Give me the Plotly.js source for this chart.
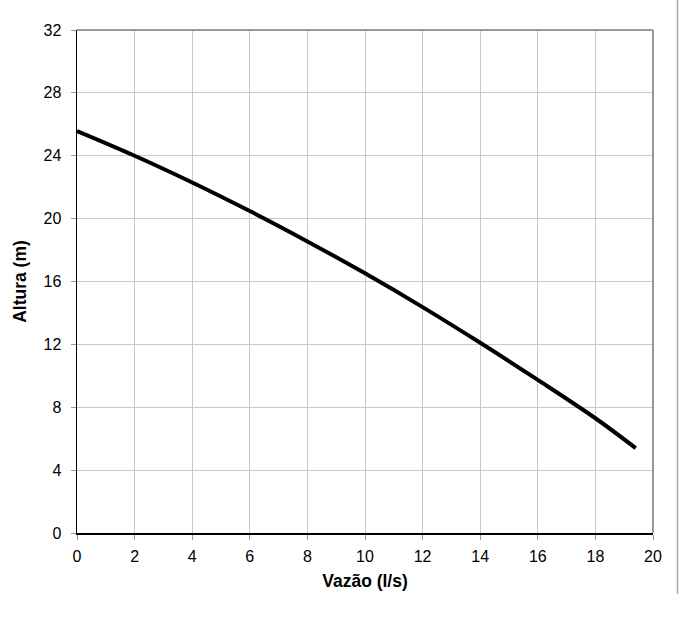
<!DOCTYPE html>
<html>
<head>
<meta charset="utf-8">
<script src="https://cdn.plot.ly/plotly-3.0.1.min.js"></script>
<style>html,body{margin:0;padding:0;background:#fff;}#chart{width:696px;height:619px;}</style>
</head>
<body>
<div id="chart"></div>
<script>
var vazao = [0, 2, 4, 6, 8, 10, 12, 14, 16, 18, 19.4];
var altura = [25.57, 24.0, 22.3, 20.48, 18.55, 16.52, 14.37, 12.1, 9.74, 7.3, 5.4];
var xTicks = [0, 2, 4, 6, 8, 10, 12, 14, 16, 18, 20];
var yTicks = [0, 4, 8, 12, 16, 20, 24, 28, 32];

var trace = {
  x: vazao, y: altura, type: 'scatter', mode: 'lines',
  line: {color: '#000', width: 4, shape: 'spline', smoothing: 1},
  hoverinfo: 'skip'
};
var fam = 'Liberation Sans, Arial, sans-serif';
var layout = {
  width: 696, height: 619,
  margin: {l: 77, r: 43, t: 30, b: 86},
  paper_bgcolor: '#fff', plot_bgcolor: '#fff',
  showlegend: false,
  font: {family: fam, size: 16, color: '#000'},
  xaxis: {
    range: [0, 20], tickvals: xTicks,
    showgrid: true, gridcolor: '#c8c8c8', gridwidth: 1,
    showline: true, linecolor: '#000', linewidth: 1.5,
    ticks: 'outside', ticklen: 5, tickcolor: '#999', tickwidth: 1,
    ticklabelstandoff: 3,
    tickfont: {family: fam, size: 16, color: '#000'},
    zeroline: false, fixedrange: true,
    title: {text: '<b>Vazão (l/s)</b>', font: {family: fam, size: 17.5, color: '#000'}, standoff: 11}
  },
  yaxis: {
    range: [0, 32], tickvals: yTicks,
    showgrid: true, gridcolor: '#c8c8c8', gridwidth: 1,
    showline: true, linecolor: '#000', linewidth: 1.5,
    ticks: 'outside', ticklen: 5, tickcolor: '#999', tickwidth: 1,
    ticklabelstandoff: 6,
    tickfont: {family: fam, size: 16, color: '#000'},
    zeroline: false, fixedrange: true,
    title: {text: '<b>Altura (m)</b>', font: {family: fam, size: 17.5, color: '#000'}, standoff: 12}
  },
  shapes: [
    {type: 'line', xref: 'paper', yref: 'paper', x0: 0, x1: 1, y0: 1, y1: 1, line: {color: '#999', width: 2}},
    {type: 'line', xref: 'paper', yref: 'paper', x0: 1, x1: 1, y0: 0, y1: 1, line: {color: '#999', width: 2}},
    {type: 'line', xref: 'paper', yref: 'paper', x0: 1.0425, x1: 1.0425, y0: -0.121, y1: 1.06, line: {color: '#aaa', width: 1.5}}
  ]
};
Plotly.newPlot('chart', [trace], layout, {displayModeBar: false, staticPlot: true});
</script>
</body>
</html>
